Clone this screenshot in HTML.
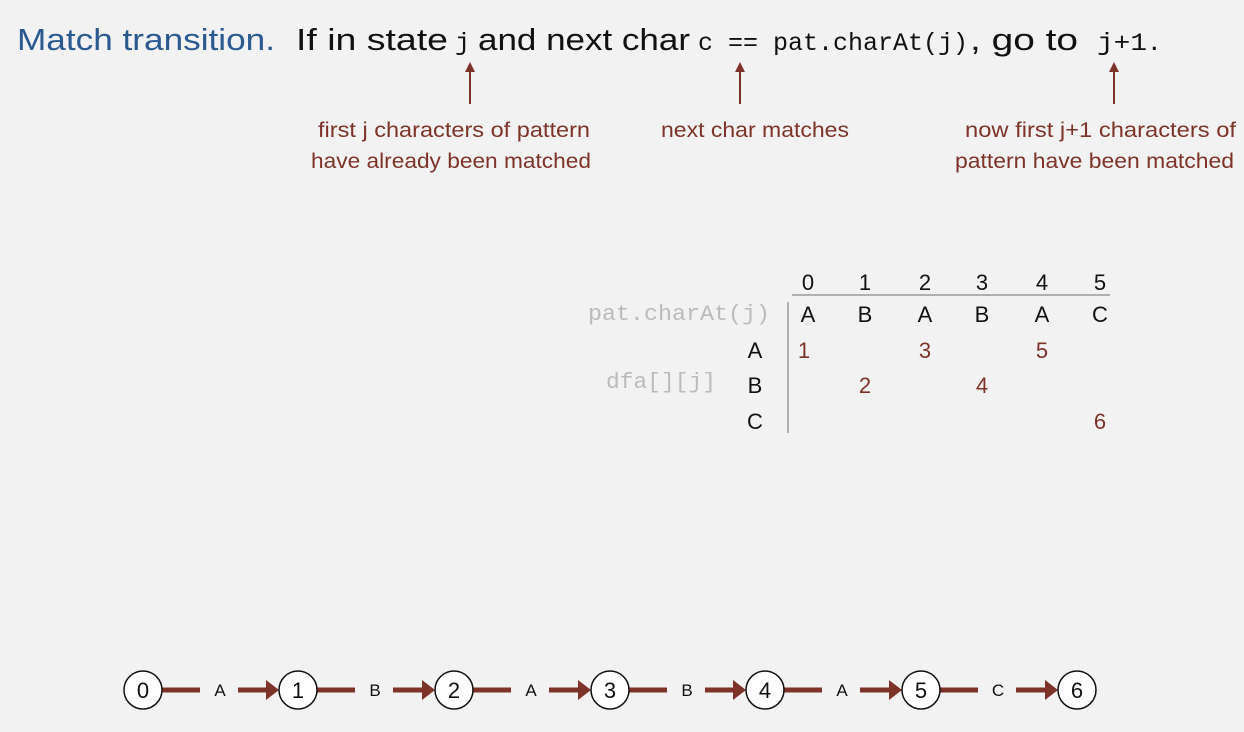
<!DOCTYPE html>
<html><head><meta charset="utf-8"><style>
html,body{margin:0;padding:0;background:#f2f2f2;}
svg{display:block;}
.s{font-family:"Liberation Sans","DejaVu Sans",sans-serif;}
.m{font-family:"Liberation Mono","DejaVu Sans Mono",monospace;}
</style></head><body>
<svg width="1244" height="732" viewBox="0 0 1244 732" xmlns="http://www.w3.org/2000/svg">
<rect width="1244" height="732" fill="#f2f2f2"/>
<!-- title -->
<text x="17" y="50" class="s" font-size="31" fill="#2a5a90" textLength="258" lengthAdjust="spacingAndGlyphs">Match transition.</text>
<text x="296" y="50" class="s" font-size="31" fill="#111" textLength="152" lengthAdjust="spacingAndGlyphs">If in state</text>
<text x="455" y="50" class="m" font-size="25" fill="#111">j</text>
<text x="478" y="50" class="s" font-size="31" fill="#111" textLength="212" lengthAdjust="spacingAndGlyphs">and next char</text>
<text x="698" y="50" class="m" font-size="25" fill="#111" textLength="270" lengthAdjust="spacingAndGlyphs">c == pat.charAt(j)</text>
<text x="970" y="50" class="s" font-size="31" fill="#111" textLength="108" lengthAdjust="spacingAndGlyphs">, go to</text>
<text x="1097" y="50" class="m" font-size="25" fill="#111" textLength="50" lengthAdjust="spacingAndGlyphs">j+1</text>
<text x="1150" y="50" class="s" font-size="31" fill="#111">.</text>
<!-- annotation arrows -->
<g stroke="#7d3328" stroke-width="2" fill="#7d3328">
<line x1="470" y1="104" x2="470" y2="70"/><path d="M465,72 L470,62 L475,72 Z" stroke="none"/>
<line x1="740" y1="104" x2="740" y2="70"/><path d="M735,72 L740,62 L745,72 Z" stroke="none"/>
<line x1="1114" y1="104" x2="1114" y2="70"/><path d="M1109,72 L1114,62 L1119,72 Z" stroke="none"/>
</g>
<g class="s" font-size="21" fill="#7d3328">
<text x="318" y="137" textLength="272" lengthAdjust="spacingAndGlyphs">first j characters of pattern</text>
<text x="311" y="168" textLength="280" lengthAdjust="spacingAndGlyphs">have already been matched</text>
<text x="661" y="137" textLength="188" lengthAdjust="spacingAndGlyphs">next char matches</text>
<text x="965" y="137" textLength="271" lengthAdjust="spacingAndGlyphs">now first j+1 characters of</text>
<text x="955" y="168" textLength="279" lengthAdjust="spacingAndGlyphs">pattern have been matched</text>
</g>
<!-- table -->
<g class="s" font-size="22" fill="#111" text-anchor="middle">
<text x="808" y="290">0</text><text x="865" y="290">1</text><text x="925" y="290">2</text><text x="982" y="290">3</text><text x="1042" y="290">4</text><text x="1100" y="290">5</text>
<text x="808" y="322">A</text><text x="865" y="322">B</text><text x="925" y="322">A</text><text x="982" y="322">B</text><text x="1042" y="322">A</text><text x="1100" y="322">C</text>
<text x="755" y="358">A</text><text x="755" y="393">B</text><text x="755" y="429">C</text>
</g>
<g class="s" font-size="22" fill="#7d3328" text-anchor="middle">
<text x="804" y="358">1</text><text x="925" y="358">3</text><text x="1042" y="358">5</text>
<text x="865" y="393">2</text><text x="982" y="393">4</text>
<text x="1100" y="429">6</text>
</g>
<line x1="792" y1="295" x2="1110" y2="295" stroke="#999" stroke-width="1.5"/>
<line x1="788" y1="302" x2="788" y2="433" stroke="#999" stroke-width="1.5"/>
<text x="588" y="320" class="m" font-size="22" fill="#bbb" textLength="182" lengthAdjust="spacingAndGlyphs">pat.charAt(j)</text>
<text x="606" y="388" class="m" font-size="22" fill="#bbb" textLength="110" lengthAdjust="spacingAndGlyphs">dfa[][j]</text>
<!-- DFA chain -->
<g stroke="#7d3328" stroke-width="5">
<line x1="162" y1="690" x2="200" y2="690"/><line x1="238" y1="690" x2="272" y2="690"/>
<line x1="317" y1="690" x2="355" y2="690"/><line x1="393" y1="690" x2="428" y2="690"/>
<line x1="473" y1="690" x2="511" y2="690"/><line x1="549" y1="690" x2="584" y2="690"/>
<line x1="629" y1="690" x2="667" y2="690"/><line x1="705" y1="690" x2="739" y2="690"/>
<line x1="784" y1="690" x2="822" y2="690"/><line x1="860" y1="690" x2="895" y2="690"/>
<line x1="940" y1="690" x2="978" y2="690"/><line x1="1016" y1="690" x2="1051" y2="690"/>
</g>
<g fill="#7d3328">
<path d="M266,680 L279,690 L266,700 Z"/><path d="M422,680 L435,690 L422,700 Z"/>
<path d="M578,680 L591,690 L578,700 Z"/><path d="M733,680 L746,690 L733,700 Z"/>
<path d="M889,680 L902,690 L889,700 Z"/><path d="M1045,680 L1058,690 L1045,700 Z"/>
</g>
<g class="s" font-size="17" fill="#111" text-anchor="middle">
<text x="220" y="696">A</text><text x="375" y="696">B</text><text x="531" y="696">A</text>
<text x="687" y="696">B</text><text x="842" y="696">A</text><text x="998" y="696">C</text>
</g>
<g fill="#fff" stroke="#111" stroke-width="1.5">
<circle cx="143" cy="690" r="19"/><circle cx="298" cy="690" r="19"/><circle cx="454" cy="690" r="19"/>
<circle cx="610" cy="690" r="19"/><circle cx="765" cy="690" r="19"/><circle cx="921" cy="690" r="19"/><circle cx="1077" cy="690" r="19"/>
</g>
<g class="s" font-size="22" fill="#111" text-anchor="middle">
<text x="143" y="698">0</text><text x="298" y="698">1</text><text x="454" y="698">2</text>
<text x="610" y="698">3</text><text x="765" y="698">4</text><text x="921" y="698">5</text><text x="1077" y="698">6</text>
</g>
</svg>
</body></html>
